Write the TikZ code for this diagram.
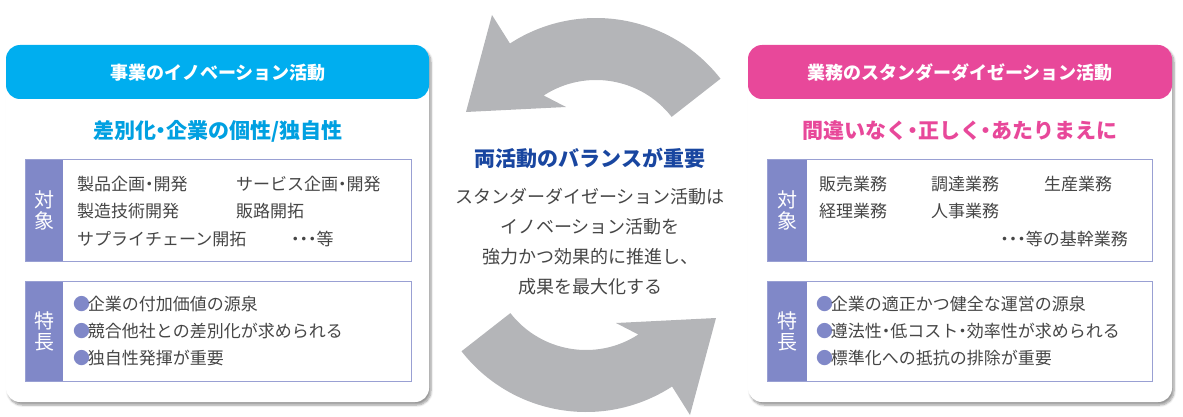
\documentclass[tikz,border=0pt]{standalone}
\usepackage{fontspec}
\setmainfont{Noto Sans CJK JP}
\usetikzlibrary{positioning,shadows.blur}
\definecolor{innoblue}{RGB}{0,174,239}
\definecolor{innotext}{RGB}{0,160,225}
\definecolor{stdpink}{RGB}{232,72,154}
\definecolor{tabviolet}{RGB}{128,136,200}
\definecolor{loopgray}{RGB}{180,181,184}
\definecolor{titleblue}{RGB}{25,70,160}
\definecolor{bodygray}{RGB}{70,70,70}
\tikzset{
    card/.style={
           draw=none, fill=white, rounded corners=14pt,
           blur shadow={shadow blur steps=6,shadow xshift=2pt,shadow yshift=-3pt},
           },
    framebox/.style={draw=tabviolet!80, line width=0.8pt},
    tabtext/.style={text=white, font=\fontsize{20}{21}\selectfont, align=center, inner sep=0pt},
    headtext/.style={text=white, font=\fontsize{18}{20}\selectfont\bfseries},
    subtext/.style={font=\fontsize{21}{23}\selectfont\bfseries},
    item/.style={text=bodygray, anchor=west, font=\fontsize{17}{19}\selectfont, inner sep=0pt},
    midtext/.style={text=bodygray, font=\fontsize{18}{20}\selectfont, inner sep=0pt},
}
\newcommand{\dotmark}{\textcolor{tabviolet}{\hbox to 0.75em{\hss●\hss}}}
\newcommand{\nd}{\hbox to 0.5em{\hss・\hss}}
\begin{document}
\begin{tikzpicture}[x=1pt,y=-1pt]
 \useasboundingbox (0,0) rectangle (1183,417);

 % turning arrows
 \foreach \turn in {0,180}{
  \fill[loopgray, rotate around={\turn:(591,215)}]
   ([shift={(-38:158)}]596,176) arc[start angle=-38,end angle=-123,radius=158]
   -- (492,15) -- (466,112) -- (566,107)
   -- ([shift={(-123:96)}]596,176) arc[start angle=-123,end angle=-38,radius=96]
   -- cycle;
 }

 % left card
 \fill[card] (6,45) rectangle (429,402);
 \fill[innoblue, rounded corners=14pt] (6,99) -- (6,45) -- (429,45) -- (429,99) -- cycle;
 \node[headtext] (innohead) at (218,73) {事業のイノベーション活動};
 \node[subtext, text=innotext] (innosub) at (218,131) {差別化\nd 企業の個性/独自性};

 \fill[tabviolet] (25,159) rectangle (63,261);
 \draw[framebox] (25,159) rectangle (411,261);
 \node[tabtext] (innotarget) at (44,210) {対\\象};
 \node[item] (i1) at (77,184) {製品企画\nd 開発};
 \node[item] (i2) at (236,184) {サービス企画\nd 開発};
 \node[item] (i3) at (77,211) {製造技術開発};
 \node[item] (i4) at (236,211) {販路開拓};
 \node[item] (i5) at (77,239) {サプライチェーン開拓};
 \node[item] (i6) at (291,239) {\nd\nd\nd 等};

 \fill[tabviolet] (25,281) rectangle (63,381);
 \draw[framebox] (25,281) rectangle (411,381);
 \node[tabtext] (innotrait) at (44,331) {特\\長};
 \node[item] (t1) at (75,304) {\dotmark 企業の付加価値の源泉};
 \node[item] (t2) at (75,331) {\dotmark 競合他社との差別化が求められる};
 \node[item] (t3) at (75,358) {\dotmark 独自性発揮が重要};

 % right card
 \fill[card] (748,45) rectangle (1172,402);
 \fill[stdpink, rounded corners=14pt] (748,99) -- (748,45) -- (1172,45) -- (1172,99) -- cycle;
 \node[headtext] (stdhead) at (960,73) {業務のスタンダーダイゼーション活動};
 \node[subtext, text=stdpink] (stdsub) at (960,131) {間違いなく\nd 正しく\nd あたりまえに};

 \fill[tabviolet] (767,159) rectangle (807,261);
 \draw[framebox] (767,159) rectangle (1152,261);
 \node[tabtext] (stdtarget) at (787,210) {対\\象};
 \node[item] (s1) at (819,184) {販売業務};
 \node[item] (s2) at (931,184) {調達業務};
 \node[item] (s3) at (1044,184) {生産業務};
 \node[item] (s4) at (819,211) {経理業務};
 \node[item] (s5) at (931,211) {人事業務};
 \node[item, anchor=east] (s6) at (1128,239) {\nd\nd\nd 等の基幹業務};

 \fill[tabviolet] (767,281) rectangle (807,381);
 \draw[framebox] (767,281) rectangle (1152,381);
 \node[tabtext] (stdtrait) at (787,331) {特\\長};
 \node[item] (u1) at (818,304) {\dotmark 企業の適正かつ健全な運営の源泉};
 \node[item] (u2) at (818,331) {\dotmark 遵法性\nd 低コスト\nd 効率性が求められる};
 \node[item] (u3) at (818,358) {\dotmark 標準化への抵抗の排除が重要};

 % centre message
 \node[text=titleblue, font=\fontsize{21}{23}\selectfont\bfseries] (balance) at (590,158) {両活動のバランスが重要};
 \node[midtext] (m1) at (590,197) {スタンダーダイゼーション活動は};
 \node[midtext] (m2) at (590,227) {イノベーション活動を};
 \node[midtext] (m3) at (590,257) {強力かつ効果的に推進し、};
 \node[midtext] (m4) at (590,287) {成果を最大化する};
\end{tikzpicture}
\end{document}
